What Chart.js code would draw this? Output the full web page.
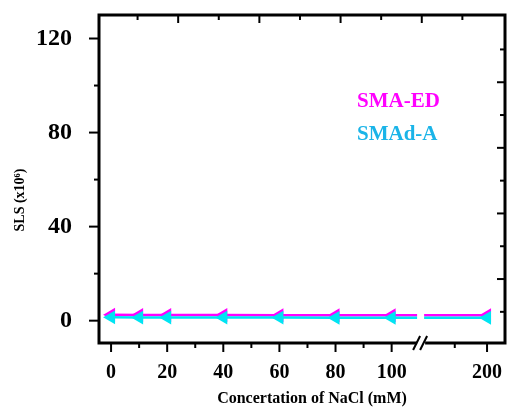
<!DOCTYPE html>
<html>
<head>
<meta charset="utf-8">
<script src="https://cdn.jsdelivr.net/npm/chart.js"></script>
<style>
  html, body { margin: 0; padding: 0; background: #fff; overflow: hidden; }
  canvas { display: block; }
</style>
</head>
<body>
<!-- 4px wider than the window: Chart.js keeps ~8px right of the plot for the point markers -->
<canvas id="c" width="513" height="408"></canvas>
<script>
// concentrations (mM) and SLS values (x10^6)
const nacl = [0, 10, 20, 40, 60, 80, 100, 200];
const smaED = [2.5, 2.4, 2.4, 2.4, 2.3, 2.3, 2.3, 2.3];
const smadA = [1.4, 1.3, 1.3, 1.3, 1.3, 1.2, 1.2, 1.2];
const xMajor = [0, 20, 40, 60, 80, 100, 200];
const xMinor = [10, 30, 50, 70, 90, 150];
const yMajor = [0, 40, 80, 120];
const yMinor = [20, 60, 100];

const SERIF = "'Liberation Serif', 'Times New Roman', serif";
const MAGENTA = '#ff00ff';
const CYAN = '#00e4f2';

// broken x axis: 0-100 linear, then compressed segment up to 200
const BREAK = 110.5;
function mapX(v) {
  return v <= 100 ? v : 111 + (v - 100) * 0.23;
}

const noPad = s => { s.paddingTop = 0; s.paddingBottom = 0; s.paddingLeft = 0; s.paddingRight = 0; };

const frame = {
  id: 'frame',
  afterDatasetsDraw(chart) {
    const ctx = chart.ctx;
    const { left, right, top, bottom } = chart.chartArea;
    const w = right - left, h = bottom - top;
    const x = chart.scales.x, y = chart.scales.y;
    const bx = x.getPixelForValue(BREAK);
    ctx.save();
    // gap in the data lines at the break
    ctx.fillStyle = '#fff';
    ctx.fillRect(bx - 4, top + 3, 7, h - 6);
    ctx.strokeStyle = '#000';
    ctx.lineCap = 'butt';
    // frame
    ctx.lineWidth = 3;
    ctx.strokeRect(left, top, w, h);
    ctx.lineWidth = 2;
    const tick = (x1, y1, x2, y2) => { ctx.beginPath(); ctx.moveTo(x1, y1); ctx.lineTo(x2, y2); ctx.stroke(); };
    // bottom ticks (outward)
    xMajor.forEach(v => { const p = x.getPixelForValue(mapX(v)); tick(p, bottom, p, bottom + 9); });
    xMinor.forEach(v => { const p = x.getPixelForValue(mapX(v)); tick(p, bottom, p, bottom + 5); });
    // left ticks (outward)
    yMajor.forEach(v => { const p = y.getPixelForValue(v); tick(left, p, left - 10, p); });
    yMinor.forEach(v => { const p = y.getPixelForValue(v); tick(left, p, left - 5, p); });
    // top and right axes: inward ticks, 10 even divisions
    for (let i = 0; i <= 8; i++) {
      const len = i % 2 ? 8 : 5;
      const f = (i + 0.95) / 10;
      const px = left + f * w;
      tick(px, top, px, top + len);
      const py = bottom - f * h;
      tick(right, py, right - len, py);
    }
    // axis break on the bottom axis
    ctx.fillStyle = '#fff';
    ctx.fillRect(bx - 4, bottom - 3, 8, 6);
    ctx.lineWidth = 2;
    tick(bx - 8, bottom + 7, bx - 1, bottom - 7);
    tick(bx - 1, bottom + 7, bx + 6, bottom - 7);
    // legend texts
    ctx.font = 'bold 21px ' + SERIF;
    ctx.textAlign = 'left';
    ctx.textBaseline = 'middle';
    ctx.fillStyle = MAGENTA;
    ctx.fillText('SMA-ED', 357, 102);
    ctx.fillStyle = '#1ab4e8';
    ctx.fillText('SMAd-A', 357, 135);
    // axis titles
    ctx.fillStyle = '#000';
    ctx.textAlign = 'center';
    ctx.font = 'bold 16px ' + SERIF;
    ctx.fillText('Concertation of NaCl (mM)', 312, 399);
    ctx.translate(20, 200);
    ctx.rotate(-Math.PI / 2);
    ctx.font = 'bold 14px ' + SERIF;
    ctx.fillText('SLS (x10\u2076)', 0, 0);
    ctx.restore();
  }
};

const pts = vals => nacl.map((v, i) => ({ x: mapX(v), y: vals[i] }));

new Chart(document.getElementById('c'), {
  type: 'line',
  data: {
    datasets: [
      {
        label: 'SMAd-A', data: pts(smadA), borderColor: CYAN, backgroundColor: CYAN,
        borderWidth: 2.5, pointStyle: 'triangle', rotation: -90, pointRadius: 5.5, tension: 0
      },
      {
        label: 'SMA-ED', data: pts(smaED), borderColor: MAGENTA, backgroundColor: MAGENTA,
        borderWidth: 2.5, pointStyle: 'triangle', rotation: -90, pointRadius: 5.5, tension: 0
      }
    ]
  },
  options: {
    responsive: false,
    animation: false,
    devicePixelRatio: 1,
    layout: { padding: { top: 15, right: 0, left: 0, bottom: 0 } },
    plugins: { legend: { display: false }, tooltip: { enabled: false } },
    scales: {
      x: {
        type: 'linear', min: -4.3, max: 140.4,
        afterBuildTicks: s => { s.ticks = xMajor.map(v => ({ value: mapX(v) })); },
        afterFit: s => { s.height = 65; noPad(s); },
        grid: { display: false }, border: { display: false },
        ticks: {
          padding: 10, color: '#000', maxRotation: 0, autoSkip: false,
          font: { family: SERIF, size: 20, weight: 'bold' },
          callback: (val, i) => xMajor[i]
        }
      },
      y: {
        type: 'linear', min: -9.5, max: 130,
        afterBuildTicks: s => { s.ticks = yMajor.map(v => ({ value: v })); },
        afterFit: s => { s.width = 99; noPad(s); },
        grid: { display: false }, border: { display: false },
        ticks: {
          padding: 19, color: '#000',
          font: { family: SERIF, size: 24, weight: 'bold' }
        }
      }
    }
  },
  plugins: [frame]
});
</script>
</body>
</html>
